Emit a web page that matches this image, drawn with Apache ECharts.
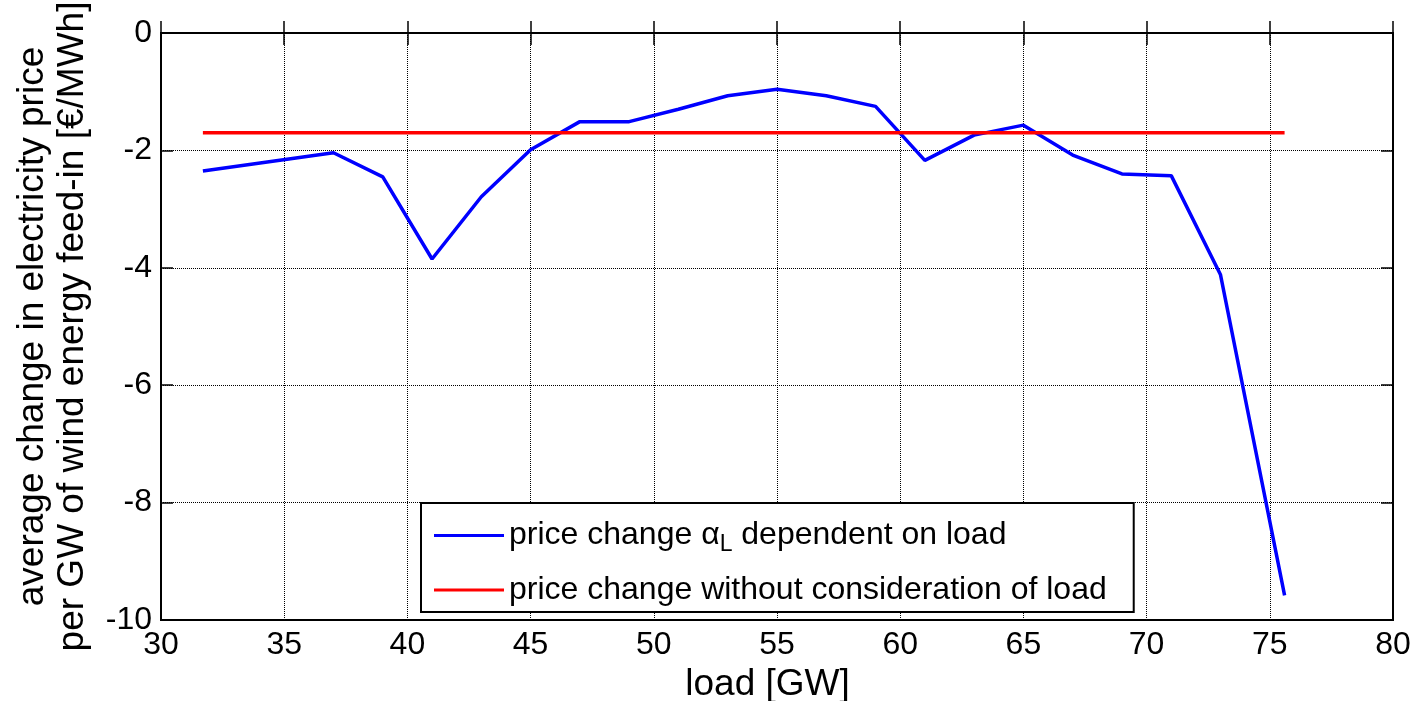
<!DOCTYPE html>
<html>
<head>
<meta charset="utf-8">
<script src="https://cdn.jsdelivr.net/npm/echarts@6/dist/echarts.min.js"></script>
<style>
  html, body { margin: 0; padding: 0; background: #fff; }
  #chart { width: 1412px; height: 701px; }
</style>
</head>
<body>
<div id="chart"></div>
<script>
// load [GW]
var loadValues = [31.7, 37, 39, 41, 43, 45, 47, 49, 51, 53, 55, 57, 59, 61, 63, 65, 67, 69, 71, 73, 75.6];
// price change alpha_L dependent on load
var alphaValues = [-2.35, -2.04, -2.45, -3.85, -2.79, -1.99, -1.51, -1.51, -1.30, -1.07, -0.96, -1.07, -1.25, -2.17, -1.74, -1.57, -2.08, -2.40, -2.43, -4.12, -9.58];
// price change without consideration of load
var flatX = [31.7, 75.6];
var flatY = [-1.7, -1.7];
var seriesNames = ['price change α_L dependent on load', 'price change without consideration of load'];

var blueData = loadValues.map(function (x, i) { return [x, alphaValues[i]]; });
var redData = flatX.map(function (x, i) { return [x, flatY[i]]; });

var font = 'Liberation Sans, Arial, sans-serif';
var myChart = echarts.init(document.getElementById('chart'));

// ticks on the top and right side too (matlab box)
function tickAxis(pos, min, max, step) {
  return {
    type: 'value', position: pos,
    min: min, max: max, interval: step,
    axisLine: { show: false },
    axisTick: { show: true, inside: true, length: 12, lineStyle: { color: '#000', width: 1.5 } },
    axisLabel: { show: false },
    splitLine: { show: false }
  };
}

var option = {
  animation: false,
  backgroundColor: '#fff',
  grid: {
    left: 161, top: 33, right: 19, bottom: 81,
    outerBoundsMode: 'none',
    containLabel: false,
    show: true, borderColor: '#000', borderWidth: 2
  },
  legend: {
    orient: 'vertical',
    left: 421, top: 503,
    padding: [12, 27, 6, 13],
    itemGap: 18,
    itemWidth: 70,
    itemHeight: 3,
    icon: 'rect',
    borderColor: '#000',
    borderWidth: 2,
    backgroundColor: '#fff',
    data: seriesNames,
    formatter: function (name) {
      if (name === seriesNames[0]) {
        return '{t|price change α}{s|L}{t| dependent on load}';
      }
      return '{t|' + name + '}';
    },
    textStyle: {
      color: '#000',
      fontFamily: font,
      fontSize: 32,
      rich: {
        t: { fontSize: 32, fontFamily: font, color: '#000', lineHeight: 37 },
        s: { fontSize: 23, fontFamily: font, color: '#000', padding: [18, 0, 0, 0], lineHeight: 37 }
      }
    }
  },
  xAxis: [{
    type: 'value',
    min: 30, max: 80, interval: 5,
    name: 'load [GW]',
    nameLocation: 'middle',
    nameGap: 39,
    nameTextStyle: { color: '#000', fontSize: 37, fontFamily: font, padding: [0, 19, 0, 0] },
    axisLine: { show: true, lineStyle: { color: '#000', width: 2 } },
    axisTick: { show: true, inside: true, length: 12, lineStyle: { color: '#000', width: 1.5 } },
    axisLabel: { color: '#000', fontSize: 32, fontFamily: font, margin: 9 },
    splitLine: { show: true, lineStyle: { color: '#000', type: 'dotted', width: 1 } }
  }, tickAxis('top', 30, 80, 5)],
  yAxis: [{
    type: 'value',
    min: -10, max: 0, interval: 2,
    name: 'average change in electricity price\nper GW of wind energy feed-in [€/MWh]',
    nameLocation: 'middle',
    nameGap: 68,
    nameTextStyle: { color: '#000', fontSize: 37, fontFamily: font, lineHeight: 40 },
    axisLine: { show: true, lineStyle: { color: '#000', width: 2 } },
    axisTick: { show: true, inside: true, length: 12, lineStyle: { color: '#000', width: 1.5 } },
    axisLabel: { color: '#000', fontSize: 32, fontFamily: font, margin: 9 },
    splitLine: { show: true, lineStyle: { color: '#000', type: 'dotted', width: 1 } }
  }, tickAxis('right', -10, 0, 2)],
  series: [{
    name: seriesNames[0],
    type: 'line',
    data: blueData,
    showSymbol: false,
    color: '#0000ff',
    lineStyle: { color: '#0000ff', width: 3.5 }
  }, {
    name: seriesNames[1],
    type: 'line',
    data: redData,
    showSymbol: false,
    color: '#ff0000',
    lineStyle: { color: '#ff0000', width: 3.5 }
  }]
};
myChart.setOption(option);
</script>
</body>
</html>
